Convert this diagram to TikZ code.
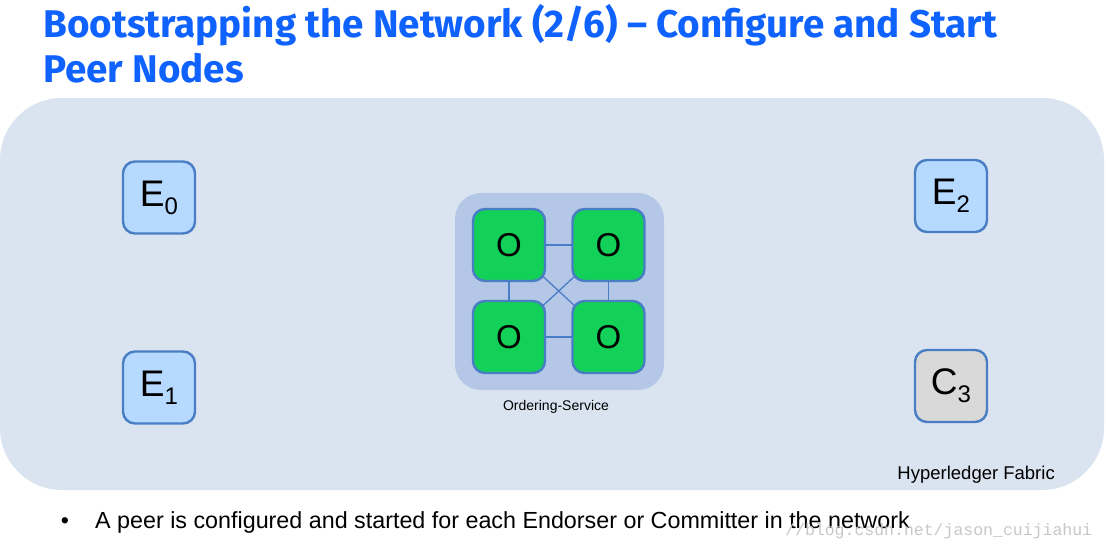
\documentclass[tikz,border=0pt]{standalone}
\usepackage{fontspec}
\setmainfont{Liberation Sans}
\newfontfamily\titlefont{Fira Sans}
\newfontfamily\markfont{Liberation Mono}
\usetikzlibrary{backgrounds}
\definecolor{titleblue}{HTML}{0F62FE}
\definecolor{fabricbg}{HTML}{DAE3F0}
\definecolor{servicebg}{HTML}{B4C7E7}
\definecolor{peerborder}{HTML}{4A7EC4}
\definecolor{endorserfill}{HTML}{B5D9FF}
\definecolor{committerfill}{HTML}{D9D9D9}
\definecolor{ordererfill}{HTML}{12D058}
\newcommand{\peername}[2]{{\fontsize{37}{37}\selectfont #1}\raisebox{-8pt}{\fontsize{24}{24}\selectfont #2}}

\begin{document}
\begin{tikzpicture}[x=1pt, y=-1pt,
        peerbox/.style={draw=peerborder, line width=2.4pt, rounded corners=12pt, minimum width=72pt, minimum height=72pt, inner sep=0pt},
        endorserpt/.style={peerbox, fill=endorserfill},
        committerpt/.style={peerbox, fill=committerfill},
        ordererpt/.style={peerbox, fill=ordererfill, font=\fontsize{33}{33}\selectfont},
        link/.style={draw=peerborder, line width=1.3pt}
    ]
        \useasboundingbox (0,0) rectangle (1106,551);

        % Title
        \node[anchor=base west, inner sep=0pt, text=titleblue, font=\titlefont\bfseries\fontsize{38.6}{45}\selectfont] (title) at (43,38) {Bootstrapping the Network (2/6) – Configure and Start};
        \node[anchor=base west, inner sep=0pt, text=titleblue, font=\titlefont\bfseries\fontsize{38.6}{45}\selectfont] (title2) at (43,83) {Peer Nodes};

        % Peers
        \node[endorserpt] (e0) at (159,197.5) {\peername{E}{0}};
        \node[endorserpt] (e1) at (159,387.5) {\peername{E}{1}};
        \node[endorserpt] (e2) at (951,196) {\peername{E}{2}};
        \node[committerpt] (c3) at (951,386) {\peername{C}{3}};

        % Ordering service
        \node[ordererpt] (o1) at (509,245) {O};
        \node[ordererpt] (o2) at (608.5,245) {O};
        \node[ordererpt] (o3) at (509,337) {O};
        \node[ordererpt] (o4) at (608.5,337) {O};
        \node[anchor=base, inner sep=0pt, font=\fontsize{14}{14}\selectfont] (service) at (556,410) {Ordering-Service};

        \begin{scope}[on background layer]
            \fill[fabricbg, rounded corners=62pt] (0,98) rectangle (1104,490);
            \fill[servicebg, rounded corners=26pt] (455,193) rectangle (664,390);
            \draw[link] (o1.center) -- (o2.center);
            \draw[link] (o1.center) -- (o3.center);
            \draw[link] (o2.center) -- (o4.center);
            \draw[link] (o3.center) -- (o4.center);
            \draw[link] (o1.center) -- (o4.center);
            \draw[link] (o2.center) -- (o3.center);
        \end{scope}

        \node[anchor=base east, inner sep=0pt, font=\fontsize{18.5}{18.5}\selectfont] (fabric) at (1055,479) {Hyperledger Fabric};

        % Bullet
        \node[anchor=base, inner sep=0pt, font=\fontsize{23.3}{23.3}\selectfont] (bullet) at (65,528) {•};
        \node[anchor=base west, inner sep=0pt, font=\fontsize{23.3}{23.3}\selectfont] (bullettext) at (95,528) {A peer is configured and started for each Endorser or Committer in the network};
        \node[anchor=base west, inner sep=0pt, text=black!22, font=\markfont\fontsize{16.5}{16.5}\selectfont] (mark) at (785,535) {//blog.csdn.net/jason\_cuijiahui};
    \end{tikzpicture}
\end{document}
